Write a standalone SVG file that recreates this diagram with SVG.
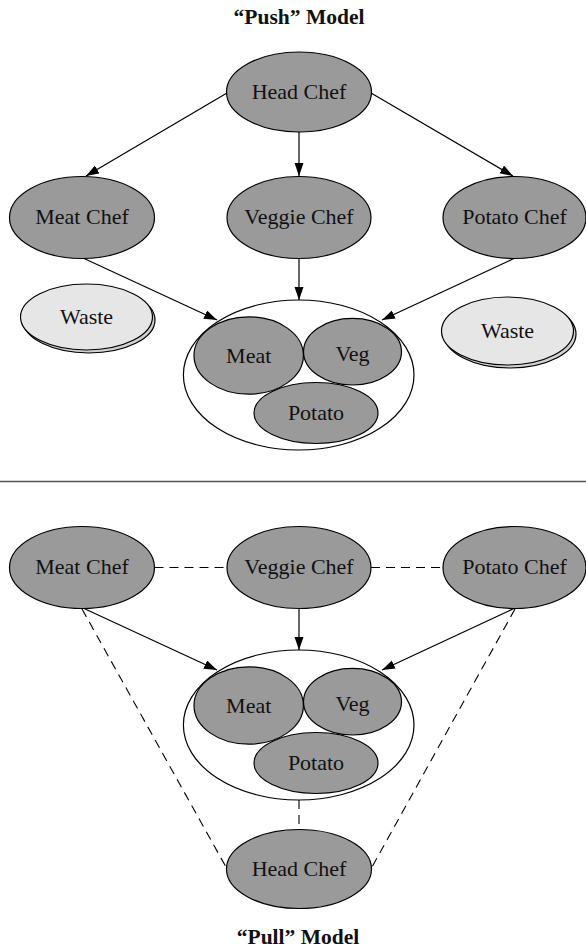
<svg xmlns="http://www.w3.org/2000/svg" width="586" height="951" viewBox="0 0 586 951">
<style>
.node{fill:#9a9a9a;stroke:#000;stroke-width:1.2}
.waste{fill:#e6e6e6;stroke:#000;stroke-width:1.2}
.shadow{fill:#d0d0d0;stroke:#000;stroke-width:1.2}
.cont{fill:#fff;stroke:#000;stroke-width:1.2}
.lbl{font-family:"Liberation Serif","Times New Roman",serif;font-size:22px;fill:#111;text-anchor:middle}
.title{font-family:"Liberation Serif","Times New Roman",serif;font-size:21.5px;font-weight:bold;fill:#111;text-anchor:middle}
.arr{stroke:#000;stroke-width:1.2;fill:none;marker-end:url(#ah)}
.dash{stroke:#000;stroke-width:1.1;fill:none;stroke-dasharray:9 6}
</style>
<defs>
<marker id="ah" markerUnits="userSpaceOnUse" markerWidth="14" markerHeight="10" refX="13" refY="4.5" orient="auto">
<path d="M0,0 L13,4.5 L0,9 z" fill="#000"/>
</marker>
</defs>
<rect width="586" height="951" fill="#fff"/>
<text class="title" x="299" y="24">“Push” Model</text>
<g id="connectors-push">
<line class="arr" x1="227" y1="93" x2="86" y2="176"/>
<line class="arr" x1="299" y1="132" x2="299" y2="176"/>
<line class="arr" x1="371" y1="93" x2="513" y2="176"/>
<line class="arr" x1="83" y1="258" x2="217" y2="320"/>
<line class="arr" x1="299" y1="259" x2="299" y2="300"/>
<line class="arr" x1="515" y1="258" x2="382" y2="320"/>
</g>
<g id="push-head"><ellipse class="node" cx="299" cy="92" rx="72.5" ry="40"/><text class="lbl" x="299" y="99">Head Chef</text></g>
<g id="push-meat-chef"><ellipse class="node" cx="82" cy="217.5" rx="72.5" ry="41"/><text class="lbl" x="82" y="224">Meat Chef</text></g>
<g id="push-veggie-chef"><ellipse class="node" cx="299" cy="217.5" rx="72" ry="41"/><text class="lbl" x="299" y="224">Veggie Chef</text></g>
<g id="push-potato-chef"><ellipse class="node" cx="514.5" cy="217.5" rx="71.5" ry="41"/><text class="lbl" x="514.5" y="224">Potato Chef</text></g>
<g id="push-waste-left"><ellipse class="shadow" cx="89" cy="320" rx="66" ry="33"/><ellipse class="waste" cx="86.5" cy="317" rx="66" ry="33"/><text class="lbl" x="86.5" y="324">Waste</text></g>
<g id="push-waste-right"><ellipse class="shadow" cx="510" cy="334" rx="66" ry="34"/><ellipse class="waste" cx="507.5" cy="331" rx="66" ry="34"/><text class="lbl" x="507.5" y="338">Waste</text></g>
<g id="push-pot">
<ellipse class="cont" cx="298.7" cy="375" rx="115.3" ry="75"/>
<ellipse class="node" cx="248.7" cy="355.5" rx="54.7" ry="38.7"/><text class="lbl" x="248.7" y="363">Meat</text>
<ellipse class="node" cx="352.5" cy="351.7" rx="49" ry="33.3"/><text class="lbl" x="352.5" y="361">Veg</text>
<ellipse class="node" cx="316" cy="413" rx="62" ry="30.5"/><text class="lbl" x="316" y="420">Potato</text>
</g>
<line x1="0" y1="481.5" x2="586" y2="481.5" stroke="#555" stroke-width="1.6"/>
<g id="connectors-pull">
<line class="dash" x1="154.5" y1="567.5" x2="227" y2="567.5"/>
<line class="dash" x1="371" y1="567.5" x2="443" y2="567.5"/>
<line class="dash" x1="82" y1="609" x2="226" y2="867"/>
<line class="dash" x1="515" y1="609" x2="372" y2="867"/>
<line class="dash" x1="299" y1="800" x2="299" y2="829.5"/>
<line class="arr" x1="83" y1="608" x2="217" y2="670"/>
<line class="arr" x1="299" y1="609" x2="299" y2="650"/>
<line class="arr" x1="515" y1="608" x2="382" y2="670"/>
</g>
<g id="pull-meat-chef"><ellipse class="node" cx="82" cy="567.5" rx="72.5" ry="41"/><text class="lbl" x="82" y="574">Meat Chef</text></g>
<g id="pull-veggie-chef"><ellipse class="node" cx="299" cy="567.5" rx="72" ry="41"/><text class="lbl" x="299" y="574">Veggie Chef</text></g>
<g id="pull-potato-chef"><ellipse class="node" cx="514.5" cy="567.5" rx="71.5" ry="41"/><text class="lbl" x="514.5" y="574">Potato Chef</text></g>
<g id="pull-pot">
<ellipse class="cont" cx="298.7" cy="725" rx="115.3" ry="75"/>
<ellipse class="node" cx="248.7" cy="705.5" rx="54.7" ry="38.7"/><text class="lbl" x="248.7" y="713">Meat</text>
<ellipse class="node" cx="352.5" cy="701.7" rx="49" ry="33.3"/><text class="lbl" x="352.5" y="711">Veg</text>
<ellipse class="node" cx="316" cy="763" rx="62" ry="30.5"/><text class="lbl" x="316" y="770">Potato</text>
</g>
<g id="pull-head"><ellipse class="node" cx="299" cy="869" rx="72.5" ry="39.5"/><text class="lbl" x="299" y="876">Head Chef</text></g>
<text class="title" x="298" y="944">“Pull” Model</text>
</svg>
